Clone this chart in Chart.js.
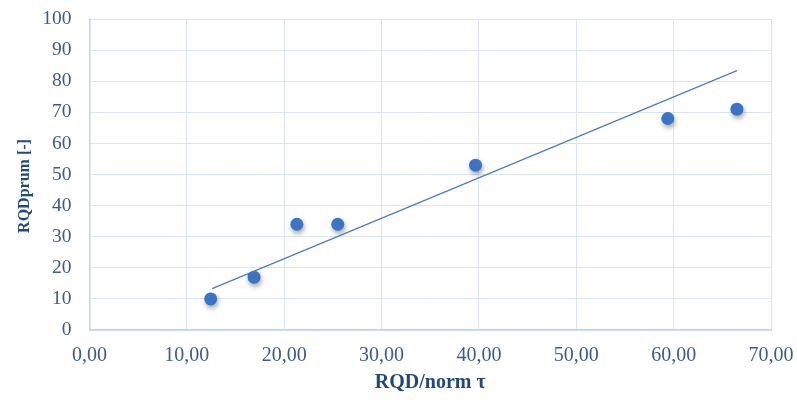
<!DOCTYPE html>
<html>
<head>
<meta charset="utf-8">
<script src="https://cdn.jsdelivr.net/npm/chart.js@4.4.1/dist/chart.umd.min.js"></script>
<style>
  html, body { margin: 0; padding: 0; background: #ffffff; }
  #wrap { width: 797px; height: 400px; }
</style>
</head>
<body>
<div id="wrap"><canvas id="c" width="797" height="400"></canvas></div>
<script>
// Measured samples: RQD/norm tau vs. average RQD
const rqdNormTau = [12.45, 16.9, 21.3, 25.5, 39.65, 59.4, 66.5];
const rqdPrum    = [10, 17, 34, 34, 53, 68, 71];

// Linear trend line endpoints
const trendX = [12.6, 66.5];
const trendY = [13.3, 83.4];

// Axis tick labels and titles
const xTickLabels = ['0,00', '10,00', '20,00', '30,00', '40,00', '50,00', '60,00', '70,00'];
const yTickLabels = ['0', '10', '20', '30', '40', '50', '60', '70', '80', '90', '100'];
const xTitle = 'RQD/norm τ';
const yTitle = 'RQDprum [-]';

const points = rqdNormTau.map((x, i) => ({ x: x, y: rqdPrum[i] }));
const trend = trendX.map((x, i) => ({ x: x, y: trendY[i] }));

const tickColor = '#3b5b8c';
const titleColor = '#1f497d';
const gridColor = '#dae5f3';
const borderColor = '#c3d4ea';
const serif = 'Liberation Serif';

// Soft drop shadow under the markers
const markerShadow = {
  id: 'markerShadow',
  beforeDatasetDraw(chart, args) {
    if (args.index !== 1) return;
    const ctx = chart.ctx;
    ctx.save();
    ctx.shadowColor = 'rgba(0,0,0,0.35)';
    ctx.shadowBlur = 5;
    ctx.shadowOffsetX = 1;
    ctx.shadowOffsetY = 3;
  },
  afterDatasetDraw(chart, args) {
    if (args.index !== 1) return;
    chart.ctx.restore();
  }
};

// Vertical axis title, set a little below the middle of the plot
const yAxisTitle = {
  id: 'yAxisTitle',
  afterDraw(chart) {
    const ctx = chart.ctx;
    const area = chart.chartArea;
    ctx.save();
    ctx.translate(25, (area.top + area.bottom) / 2 + 11.5);
    ctx.rotate(-Math.PI / 2);
    ctx.font = 'bold 16px "' + serif + '"';
    ctx.fillStyle = titleColor;
    ctx.textAlign = 'center';
    ctx.textBaseline = 'middle';
    ctx.fillText(yTitle, 0, 0);
    ctx.restore();
  }
};

new Chart(document.getElementById('c'), {
  type: 'scatter',
  data: {
    datasets: [
      {
        type: 'line',
        data: trend,
        borderColor: '#4a7cc2',
        borderWidth: 1.2,
        pointRadius: 0,
        fill: false,
        tension: 0
      },
      {
        data: points,
        backgroundColor: '#3a74c2',
        borderColor: '#3a74c2',
        borderWidth: 0,
        pointRadius: 6.5,
        pointHoverRadius: 6.5
      }
    ]
  },
  options: {
    responsive: false,
    animation: false,
    layout: { padding: { left: 0, right: 26, top: 19, bottom: 0 } },
    plugins: {
      legend: { display: false },
      tooltip: { enabled: false }
    },
    scales: {
      x: {
        type: 'linear',
        min: 0,
        max: 70,
        ticks: {
          stepSize: 10,
          color: tickColor,
          padding: 14,
          maxRotation: 0,
          font: { family: serif, size: 20 },
          callback: (v) => xTickLabels[Math.round(v / 10)]
        },
        grid: { color: gridColor, lineWidth: 1, drawTicks: false },
        border: { color: borderColor, width: 1.5 },
        title: {
          display: true,
          text: xTitle,
          color: titleColor,
          padding: { top: 0, bottom: 5 },
          font: { family: serif, size: 20, weight: 'bold' }
        },
        afterFit(s) { s.height = 70; s.paddingLeft = 0; s.paddingRight = 0; }
      },
      y: {
        type: 'linear',
        min: 0,
        max: 100,
        ticks: {
          stepSize: 10,
          color: tickColor,
          padding: 18,
          font: { family: serif, size: 19.5 },
          callback: (v) => yTickLabels[Math.round(v / 10)]
        },
        grid: { color: gridColor, lineWidth: 1, drawTicks: false },
        border: { color: borderColor, width: 1.5 },
        title: { display: false },
        afterFit(s) { s.width = 89.5; s.paddingTop = 0; s.paddingBottom = 0; }
      }
    }
  },
  plugins: [markerShadow, yAxisTitle]
});
</script>
</body>
</html>
